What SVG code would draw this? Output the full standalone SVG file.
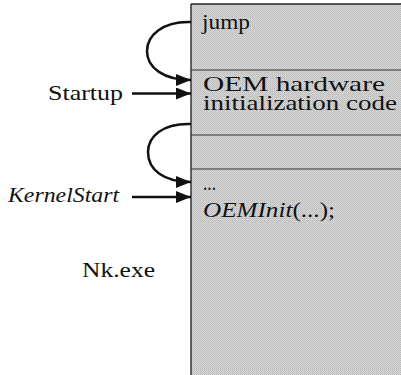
<svg xmlns="http://www.w3.org/2000/svg" width="401" height="375" viewBox="0 0 401 375">
<style>
.t{font-family:"Liberation Serif","Times New Roman",serif;font-size:22px;fill:#111}
.i{font-style:italic}
.c{fill:none;stroke:#111;stroke-width:2.5}
.div{stroke:#333;stroke-width:1.2}
</style>
<defs>
<marker id="ah" markerUnits="userSpaceOnUse" markerWidth="15" markerHeight="12" refX="15" refY="6" orient="auto">
<path d="M0,0 L15,6 L0,12 Z" fill="#111"/>
</marker>
<pattern id="ht" width="2" height="2" patternUnits="userSpaceOnUse">
<rect width="2" height="2" fill="#d6d6d6"/>
<rect width="1" height="1" fill="#bababa"/>
<rect x="1" y="1" width="1" height="1" fill="#c4c4c4"/>
</pattern>
</defs>
<g id="nk-image">
<rect x="191" y="4" width="215" height="375" fill="url(#ht)"/>
<line x1="191" y1="4" x2="401" y2="4" stroke="#222" stroke-width="1.5"/>
<line x1="191" y1="4" x2="191" y2="375" stroke="#333" stroke-width="1.5"/>
<line class="div" x1="191" y1="70" x2="401" y2="70"/>
<line class="div" x1="191" y1="135" x2="401" y2="135"/>
<line class="div" x1="191" y1="169" x2="401" y2="169"/>
</g>
<g id="jump">
<text class="t" x="202" y="29" textLength="48" lengthAdjust="spacingAndGlyphs">jump</text>
</g>
<g id="oem-init-code">
<text class="t" x="203" y="91" textLength="182" lengthAdjust="spacingAndGlyphs">OEM hardware</text>
<text class="t" x="203" y="110" textLength="194" lengthAdjust="spacingAndGlyphs">initialization code</text>
</g>
<g id="kernel-code">
<text class="t" x="203" y="190" textLength="13" lengthAdjust="spacingAndGlyphs">...</text>
<text class="t" x="203" y="217" textLength="132" lengthAdjust="spacingAndGlyphs"><tspan class="i">OEMInit</tspan>(...);</text>
</g>
<g id="startup">
<text class="t" x="48" y="100" textLength="75" lengthAdjust="spacingAndGlyphs">Startup</text>
</g>
<g id="kernelstart">
<text class="t i" x="8" y="202" textLength="111" lengthAdjust="spacingAndGlyphs">KernelStart</text>
</g>
<g id="nkexe">
<text class="t" x="82" y="277" textLength="73" lengthAdjust="spacingAndGlyphs">Nk.exe</text>
</g>
<g id="connectors">
<path class="c" d="M191,22 C162,21 147,36 147,51 C147,68 164,80 191,80" marker-end="url(#ah)"/>
<path class="c" d="M132,93.5 L191,93.5" marker-end="url(#ah)"/>
<path class="c" d="M191,124 C162,123 148,137 148,152 C148,170 164,182 191,182" marker-end="url(#ah)"/>
<path class="c" d="M132,197 L191,197" marker-end="url(#ah)"/>
</g>
</svg>
